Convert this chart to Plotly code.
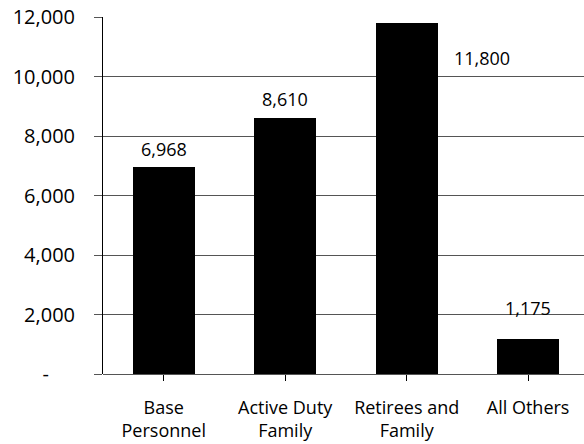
import plotly.graph_objects as go

categories = ["Base<br>Personnel", "Active Duty<br>Family", "Retirees and<br>Family", "All Others"]
values = [6968, 8610, 11800, 1175]
value_labels = ["6,968", "8,610", "11,800", "1,175"]
label_shift_x = [0, 0, 75, 0]
label_shift_y = [18, 19, -35, 31]

tick_vals = [0, 2000, 4000, 6000, 8000, 10000, 12000]
tick_text = ["-" + "\u00a0" * 5, "2,000", "4,000", "6,000", "8,000", "10,000", "12,000"]

FONT = "Open Sans"

fig = go.Figure()
fig.add_trace(go.Bar(
    x=list(range(len(categories))),
    y=values,
    width=0.51,
    marker=dict(color="black", line=dict(width=0)),
))

for i, (v, t) in enumerate(zip(values, value_labels)):
    fig.add_annotation(
        x=i, y=v, text=t, showarrow=False,
        xshift=label_shift_x[i], yshift=label_shift_y[i],
        font=dict(family=FONT, size=18, color="black"),
    )

fig.update_layout(
    width=584, height=444,
    margin=dict(l=103, r=0, t=17, b=70),
    plot_bgcolor="white", paper_bgcolor="white",
    showlegend=False,
    font=dict(family=FONT, size=18, color="black"),
    bargap=0,
)
fig.update_xaxes(
    range=[-0.5, 3.46],
    tickvals=list(range(len(categories))),
    ticktext=categories,
    tickson="boundaries",
    ticks="outside", ticklen=6, tickcolor="black", tickwidth=1,
    showgrid=False, showline=False, zeroline=False,
    ticklabelstandoff=11,
    tickfont=dict(family=FONT, size=18),
)
fig.update_yaxes(
    range=[0, 12000],
    tickvals=tick_vals, ticktext=tick_text,
    ticks="outside", ticklen=8, tickcolor="#555", tickwidth=1,
    showgrid=True, gridcolor="#555", gridwidth=1,
    showline=True, linecolor="black", linewidth=1,
    zeroline=True, zerolinecolor="#555", zerolinewidth=1,
    ticklabelstandoff=15,
    tickfont=dict(family=FONT, size=20),
)

fig.write_html("out.html")
